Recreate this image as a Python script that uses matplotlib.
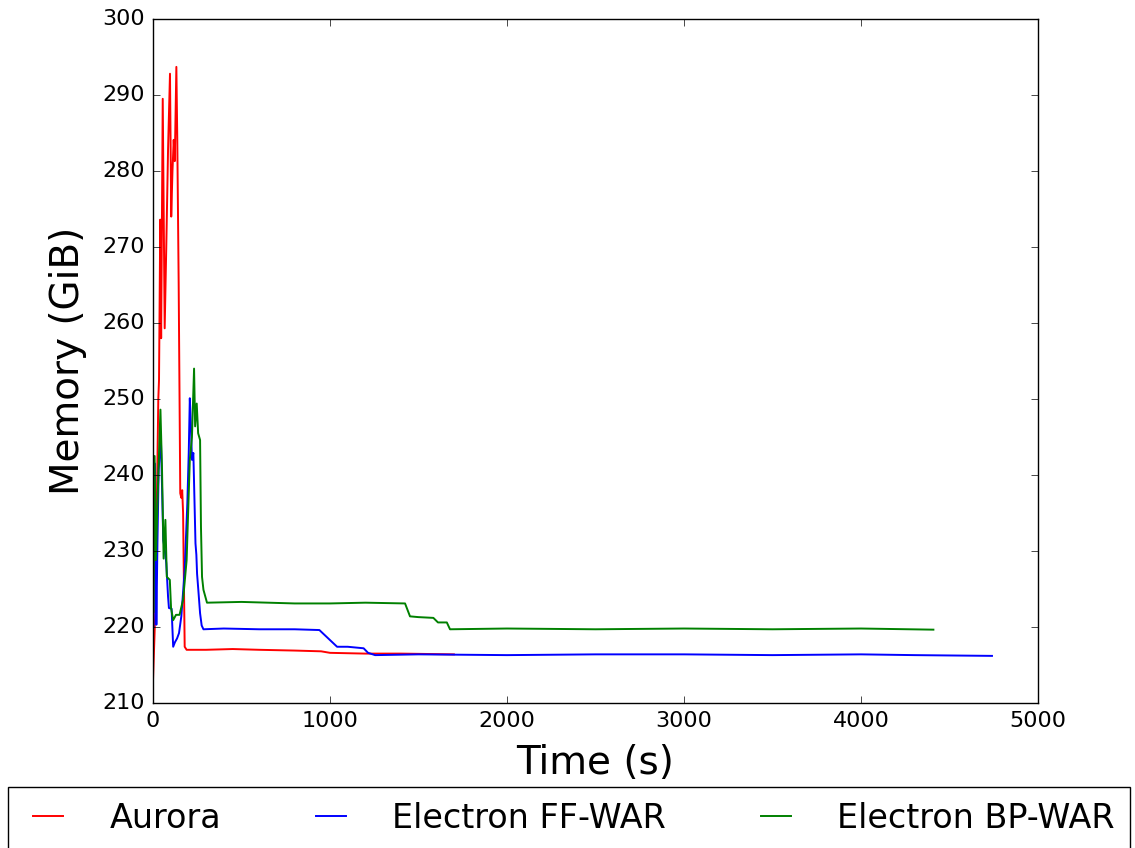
import matplotlib
matplotlib.use("Agg")
import matplotlib.pyplot as plt

plt.style.use("classic")
plt.rcParams["font.family"] = ["DejaVu Sans"]

# Memory usage over time (seconds, GiB)
aurora_t = [0, 13, 30, 34, 41, 46, 55, 66, 75, 85, 96, 103, 110, 117, 123, 132,
            137, 145, 150, 154, 160, 165, 170, 179, 190, 300, 450, 600, 800, 950,
            1000, 1200, 1400, 1700]
aurora_mem = [213.0, 222.0, 250.0, 252.5, 273.6, 258.0, 289.5, 259.3, 270.0, 282.8,
              292.8, 274.0, 280.0, 284.1, 281.3, 293.7, 284.5, 265.3, 250.0, 237.6,
              237.0, 238.0, 235.0, 217.4, 217.0, 217.0, 217.1, 217.0, 216.9, 216.8,
              216.6, 216.5, 216.5, 216.4]

ff_t = [3, 11, 19, 25, 32, 44, 51, 58, 65, 75, 85, 90, 105, 114, 124, 136, 147,
        160, 179, 194, 202, 208, 215, 220, 228, 236, 240, 245, 249, 256, 266, 275,
        285, 400, 600, 800, 940, 1040, 1100, 1190, 1215, 1255, 1500, 2000, 2500,
        3000, 3500, 4000, 4300, 4740]
ff_mem = [220.0, 241.5, 220.3, 231.0, 240.7, 245.3, 238.5, 231.4, 230.5, 228.4,
          224.0, 222.5, 222.4, 217.4, 218.0, 218.5, 219.2, 221.4, 227.5, 236.3,
          243.0, 250.1, 246.0, 242.0, 242.9, 235.0, 231.0, 229.5, 227.0, 224.9,
          221.8, 220.2, 219.7, 219.8, 219.7, 219.7, 219.6, 217.4, 217.4, 217.2,
          216.6, 216.3, 216.4, 216.3, 216.4, 216.4, 216.3, 216.4, 216.3, 216.2]

bp_t = [3, 9, 16, 30, 42, 51, 60, 70, 78, 95, 102, 114, 130, 150, 170, 190, 208,
        220, 232, 238, 247, 255, 266, 271, 277, 285, 305, 500, 800, 1000, 1200,
        1424, 1452, 1500, 1584, 1610, 1660, 1678, 2000, 2500, 3000, 3500, 4000,
        4409]
bp_mem = [222.0, 242.5, 228.8, 239.8, 248.6, 240.7, 229.0, 234.1, 226.6, 226.2,
          222.5, 220.9, 221.6, 221.6, 223.6, 228.8, 242.0, 245.0, 254.0, 246.4,
          249.4, 245.5, 244.6, 233.2, 226.6, 224.9, 223.2, 223.3, 223.1, 223.1,
          223.2, 223.1, 221.4, 221.3, 221.2, 220.6, 220.6, 219.7, 219.8, 219.7,
          219.8, 219.7, 219.8, 219.65]

fig = plt.figure(figsize=(11.35, 8.48), dpi=100, facecolor="white")
ax = fig.add_axes([153 / 1135, 1 - 703 / 848, (1038 - 153) / 1135, (703 - 19) / 848])

ax.plot(aurora_t, aurora_mem, color="red", lw=1.4, label="Aurora")
ax.plot(ff_t, ff_mem, color="blue", lw=1.4, label="Electron FF-WAR")
ax.plot(bp_t, bp_mem, color="green", lw=1.4, label="Electron BP-WAR")

ax.set_xlim(0, 5000)
ax.set_ylim(210, 300)
ax.set_xticks(range(0, 5001, 1000))
ax.set_yticks(range(210, 301, 10))
ax.tick_params(labelsize=16, direction="in", length=5, pad=6, top=True, right=True)
ax.set_xlabel("Time (s)", fontsize=28, labelpad=9)
ax.set_ylabel("Memory (GiB)", fontsize=28, labelpad=11)

fig.legend(loc="upper left", ncol=3, mode="expand",
           bbox_to_anchor=(8 / 1135, 1 - 787 / 848, (1130 - 8) / 1135, 0),
           fontsize=24, frameon=True, fancybox=False, borderpad=0.45,
           handlelength=1.5, handletextpad=1.1, borderaxespad=0)

fig.savefig("out.png", dpi=100, facecolor="white")
